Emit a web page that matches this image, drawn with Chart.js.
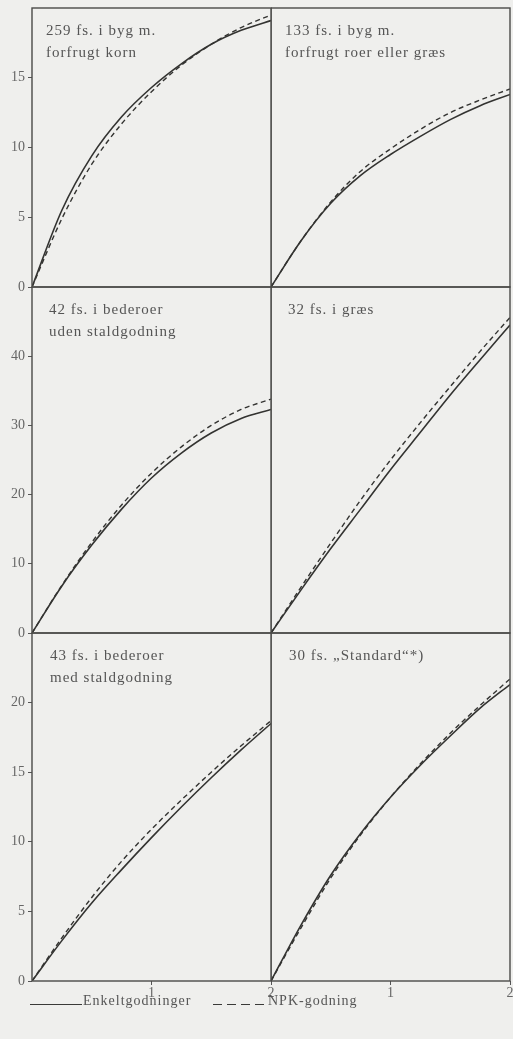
<!DOCTYPE html>
<html>
<head>
<meta charset="utf-8">
<script src="https://cdn.jsdelivr.net/npm/chart.js@4.4.0/dist/chart.umd.min.js"></script>
<style>
  html, body { margin: 0; padding: 0; background: #efefed; }
  body { width: 513px; height: 1039px; overflow: hidden; position: relative; font-family: "Liberation Serif", "DejaVu Serif", serif; }
  .panel { position: absolute; }
  .note { position: absolute; font-size: 15px; line-height: 22.5px; letter-spacing: 1px; color: #555; white-space: nowrap; }
  .leg { position: absolute; font-size: 14px; letter-spacing: 1px; color: #555; white-space: nowrap; line-height: 18px; }
</style>
</head>
<body>
<script>
// ---- data ----
const X_VALUES = [0, 0.25, 0.5, 0.75, 1, 1.25, 1.5, 1.75, 2];
const X_TICKS = [1, 2];

const TITLE_1 = ["259 fs. i byg m.", "forfrugt korn"];
const TITLE_2 = ["133 fs. i byg m.", "forfrugt roer eller græs"];
const TITLE_3 = ["42 fs. i bederoer", "uden staldgodning"];
const TITLE_4 = ["32 fs. i græs"];
const TITLE_5 = ["43 fs. i bederoer", "med staldgodning"];
const TITLE_6 = ["30 fs. \u201EStandard\u201C*)"];

const ENKELT_1 = [0, 5.5, 9.4, 12.2, 14.3, 16.0, 17.4, 18.4, 19.1];
const NPK_1    = [0, 4.9, 8.8, 11.7, 14.0, 15.9, 17.4, 18.6, 19.5];
const ENKELT_2 = [0, 3.3, 6.0, 8.0, 9.5, 10.8, 12.0, 13.0, 13.8];
const NPK_2    = [0, 3.3, 6.1, 8.3, 9.9, 11.3, 12.5, 13.4, 14.2];
const ENKELT_3 = [0, 6.8, 12.7, 17.9, 22.4, 26.0, 28.9, 31.0, 32.3];
const NPK_3    = [0, 6.9, 13.1, 18.5, 23.1, 26.9, 30.0, 32.3, 33.8];
const ENKELT_4 = [0, 6.2, 12.2, 17.9, 23.6, 29.0, 34.4, 39.5, 44.5];
const NPK_4    = [0, 6.6, 13.0, 19.2, 25.0, 30.4, 35.6, 40.7, 45.6];
const ENKELT_5 = [0, 2.9, 5.6, 8.0, 10.3, 12.5, 14.6, 16.6, 18.5];
const NPK_5    = [0, 3.1, 6.0, 8.6, 10.9, 13.0, 15.0, 16.9, 18.7];
const ENKELT_6 = [0, 4.0, 7.6, 10.6, 13.2, 15.5, 17.6, 19.6, 21.3];
const NPK_6    = [0, 3.8, 7.4, 10.5, 13.2, 15.6, 17.8, 19.8, 21.7];

const Y_MAX  = [20, 50, 25];
const Y_STEP = [5, 10, 5];

const LEGEND_LABELS = ["Enkeltgodninger", "NPK-godning"];

// ---- layout ----
const COL_L = [32, 271], COL_R = [271, 510];
const ROW_T = [8, 287, 633], ROW_B = [287, 633, 981];
const NOTE_DX = [14, 17, 18];

const PANELS = [
  {row:0, col:0, title:TITLE_1, a:ENKELT_1, b:NPK_1},
  {row:0, col:1, title:TITLE_2, a:ENKELT_2, b:NPK_2},
  {row:1, col:0, title:TITLE_3, a:ENKELT_3, b:NPK_3},
  {row:1, col:1, title:TITLE_4, a:ENKELT_4, b:NPK_4},
  {row:2, col:0, title:TITLE_5, a:ENKELT_5, b:NPK_5},
  {row:2, col:1, title:TITLE_6, a:ENKELT_6, b:NPK_6},
];

const boxPlugin = {
  id: 'box',
  afterDraw(chart) {
    const a = chart.chartArea, c = chart.ctx;
    c.save();
    c.strokeStyle = '#4a4a48';
    c.lineWidth = 1.4;
    c.strokeRect(a.left, a.top, a.right - a.left, a.bottom - a.top);
    c.restore();
  }
};

const toPts = arr => X_VALUES.map((x, i) => ({x: x, y: arr[i]}));
const zeroPad = s => { s.paddingTop = 0; s.paddingBottom = 0; s.paddingLeft = 0; s.paddingRight = 0; };

PANELS.forEach(p => {
  const L = COL_L[p.col], R = COL_R[p.col], T = ROW_T[p.row], B = ROW_B[p.row];
  const padTop = p.row === 0 ? 8 : 10;
  const padBottom = p.row < 2 ? 10 : 0;
  const axisH = p.row === 2 ? 30 : 0;
  const yW = p.col === 0 ? 32 : 0;
  const padRight = p.col === 0 ? 9 : 3;
  const cw = yW + (R - L) + padRight;
  const ch = padTop + (B - T) + padBottom + axisH;

  const div = document.createElement('div');
  div.className = 'panel';
  div.style.left = (L - yW) + 'px';
  div.style.top = (T - padTop) + 'px';
  div.style.width = cw + 'px';
  div.style.height = ch + 'px';
  const cv = document.createElement('canvas');
  cv.width = cw; cv.height = ch;
  cv.style.width = cw + 'px'; cv.style.height = ch + 'px';
  div.appendChild(cv);
  document.body.appendChild(div);

  const ymax = Y_MAX[p.row];
  new Chart(cv, {
    type: 'line',
    data: {
      datasets: [
        {label: LEGEND_LABELS[0], data: toPts(p.a), borderColor: '#333331', borderWidth: 1.6,
         pointRadius: 0, cubicInterpolationMode: 'monotone', fill: false},
        {label: LEGEND_LABELS[1], data: toPts(p.b), borderColor: '#333331', borderWidth: 1.4,
         borderDash: [5, 3.5], pointRadius: 0, cubicInterpolationMode: 'monotone', fill: false}
      ]
    },
    options: {
      responsive: false,
      animation: false,
      devicePixelRatio: 1,
      layout: {padding: {top: padTop, bottom: padBottom, left: 0, right: padRight}},
      plugins: {legend: {display: false}, tooltip: {enabled: false}},
      scales: {
        x: {
          type: 'linear', min: 0, max: 2,
          display: p.row === 2,
          afterFit: s => { s.height = axisH; zeroPad(s); },
          border: {display: false},
          grid: {drawOnChartArea: false, drawTicks: true, tickLength: 4, color: '#555'},
          ticks: {
            stepSize: 1, padding: 0, color: '#666',
            font: {family: 'Liberation Serif', size: 14},
            callback: v => X_TICKS.includes(v) ? String(v) : null
          }
        },
        y: {
          type: 'linear', min: 0, max: ymax,
          display: p.col === 0,
          afterFit: s => { s.width = yW; zeroPad(s); },
          border: {display: false},
          grid: {drawOnChartArea: false, drawTicks: true, tickLength: 4, color: '#555'},
          ticks: {
            stepSize: Y_STEP[p.row], padding: 3, color: '#666',
            font: {family: 'Liberation Serif', size: 14},
            callback: v => v === ymax ? null : String(v)
          }
        }
      }
    },
    plugins: [boxPlugin]
  });

  const note = document.createElement('div');
  note.className = 'note';
  note.style.left = (L + NOTE_DX[p.row]) + 'px';
  note.style.top = (T + 10.5) + 'px';
  note.innerHTML = p.title.map(t => t.replace(/&/g,'&amp;').replace(/</g,'&lt;')).join('<br>');
  document.body.appendChild(note);
});

// ---- legend ----
function addLine(left, width, dashed) {
  const d = document.createElement('div');
  d.style.position = 'absolute';
  d.style.left = left + 'px';
  d.style.top = '1004px';
  d.style.width = width + 'px';
  d.style.height = '1.4px';
  d.style.background = dashed
    ? 'repeating-linear-gradient(to right, #3a3a38 0 9px, transparent 9px 14px)'
    : '#3a3a38';
  document.body.appendChild(d);
}
function addText(left, txt) {
  const d = document.createElement('div');
  d.className = 'leg';
  d.style.left = left + 'px';
  d.style.top = '992px';
  d.textContent = txt;
  document.body.appendChild(d);
}
addLine(30, 52, false);
addText(83, LEGEND_LABELS[0]);
addLine(213, 54, true);
addText(268, LEGEND_LABELS[1]);
</script>
</body>
</html>
